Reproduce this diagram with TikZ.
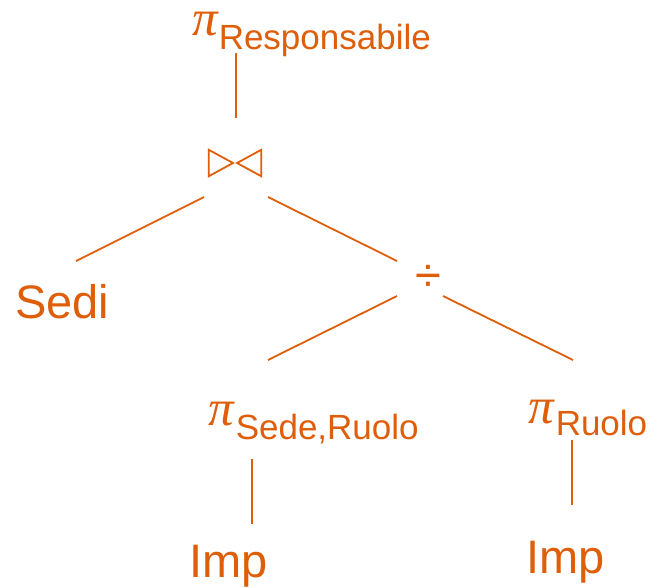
\documentclass[tikz,border=0pt]{standalone}
\usepackage{fontspec}
\setmainfont{Liberation Sans}
\newfontfamily\pifont{Liberation Serif}[ItalicFont=* Italic]
\definecolor{ora}{RGB}{222,94,10}
\newcommand{\mainsz}{\fontsize{47}{50}\selectfont}
\newcommand{\subsz}{\fontsize{35}{38}\selectfont}
\newcommand{\pisym}{{\pifont\itshape\fontsize{51}{54}\selectfont π}}
\begin{document}
\begin{tikzpicture}[x=1pt,y=-1pt,
  lbl/.style={anchor=base west,inner sep=0pt,text=ora,font=\mainsz},
  edge/.style={draw=ora,line width=1.8pt}]
\useasboundingbox (0,0) rectangle (650,587);
\node[lbl] (resp) at (192,35) {\pisym\kern1pt\raisebox{-14pt}{\subsz Responsabile}};
\node[inner sep=0pt,minimum width=52pt,minimum height=26pt] (join) at (235,163) {};
\draw[edge,line join=miter] (join.north west) -- (join.south west) -- ([xshift=-2pt]join.center) -- cycle;
\draw[edge,line join=miter] (join.north east) -- (join.south east) -- ([xshift=2pt]join.center) -- cycle;
\node[lbl] (sedi) at (15,318) {Sedi};
\node[inner sep=0pt,text=ora,font=\mainsz] (div) at (428,278) {÷};
\node[lbl] (psr) at (208,425) {\pisym\kern2pt\raisebox{-14pt}{\subsz Sede,Ruolo}};
\node[lbl] (pr) at (528,423) {\pisym\kern2pt\raisebox{-12pt}{\subsz Ruolo}};
\node[lbl] (imp1) at (189,577) {Imp};
\node[lbl] (imp2) at (526,573) {Imp};
\draw[edge] ([shift={(44,18)}]resp.base west) -- ([shift={(1,-45)}]join.center);
\draw[edge] ([shift={(-31,34)}]join.center) -- ([shift={(61,-57)}]sedi.base west);
\draw[edge] ([shift={(33,34)}]join.center) -- ([shift={(-31,-17)}]div.center);
\draw[edge] ([shift={(-31,18)}]div.center) -- ([shift={(60,-65)}]psr.base west);
\draw[edge] ([shift={(15,18)}]div.center) -- ([shift={(45,-63)}]pr.base west);
\draw[edge] ([shift={(44,34)}]psr.base west) -- ([shift={(63,-53)}]imp1.base west);
\draw[edge] ([shift={(44,17)}]pr.base west) -- ([shift={(46,-68)}]imp2.base west);
\end{tikzpicture}
\end{document}
